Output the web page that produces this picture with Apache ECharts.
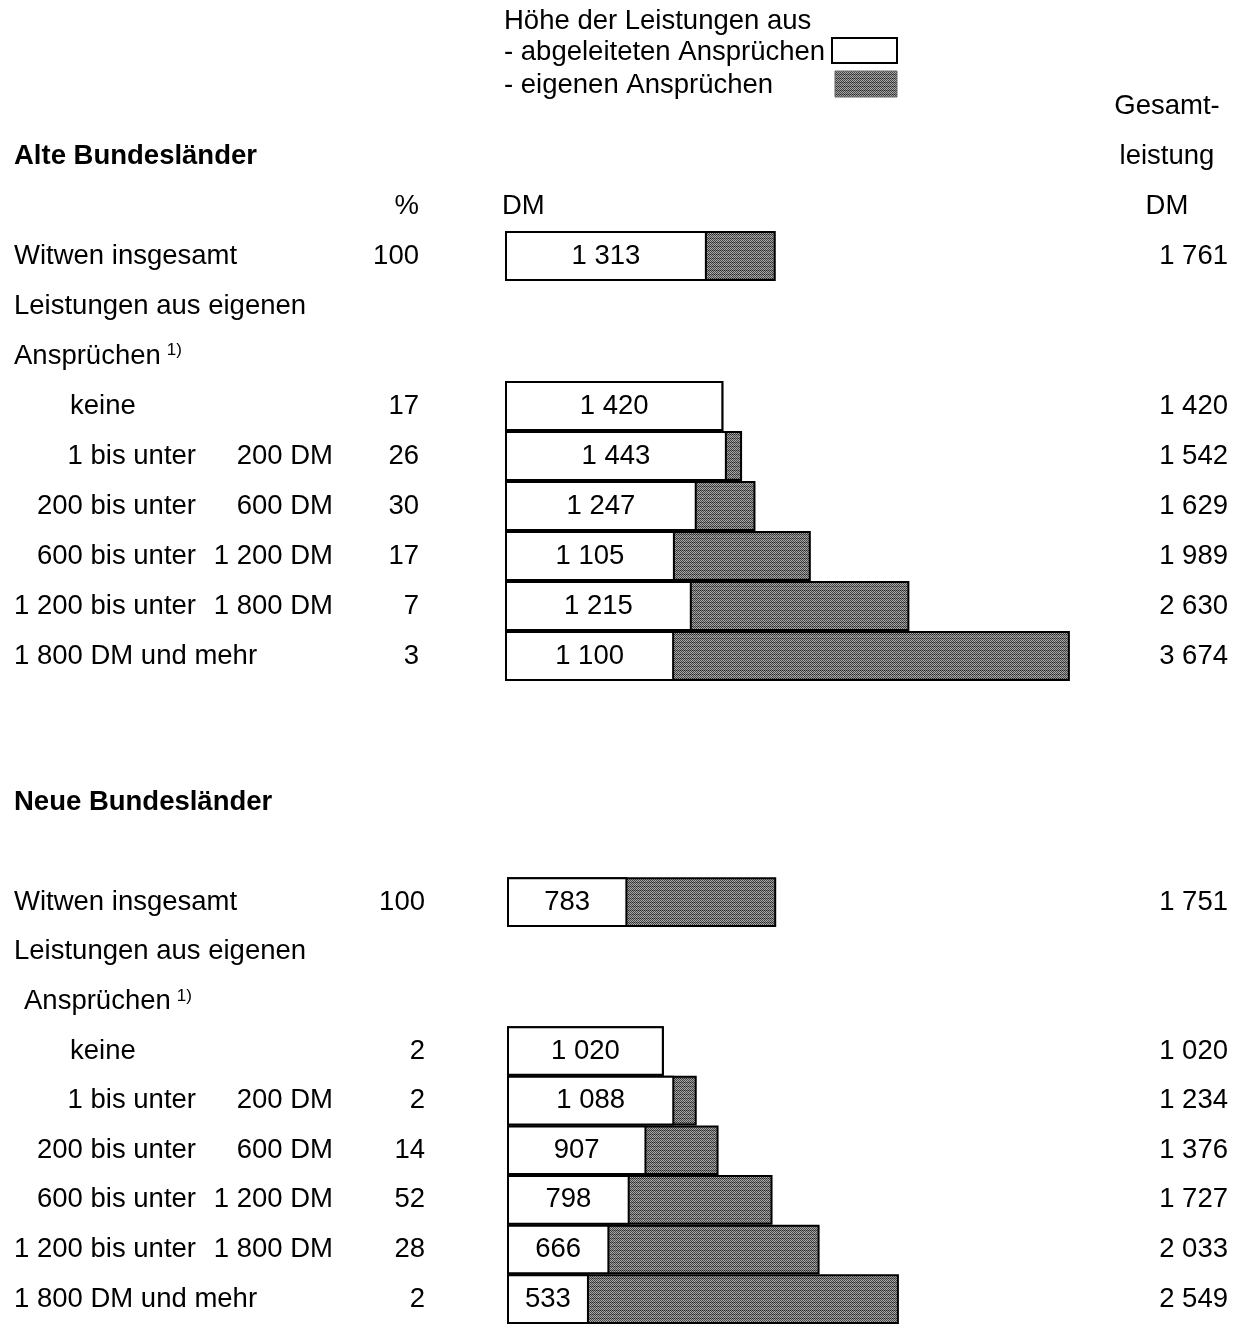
<!DOCTYPE html>
<html lang="de">
<head>
<meta charset="utf-8">
<title>Witwenrenten nach Höhe der Leistungen</title>
<script src="https://cdn.jsdelivr.net/npm/echarts@6/dist/echarts.min.js"></script>
<style>
  html, body { margin: 0; padding: 0; background: #fff; }
  #chart { width: 1245px; height: 1324px; }
</style>
</head>
<body>
<div id="chart"></div>
<script>
// Klassen der Leistungen aus eigenen Ansprüchen (untere Grenze | obere Grenze)
const klassenVon = ['keine', '1 bis unter', '200 bis unter', '600 bis unter', '1 200 bis unter', '1 800 DM und mehr'];
const klassenBis = ['', '200 DM', '600 DM', '1 200 DM', '1 800 DM', ''];

// Alte Bundesländer: Witwen insgesamt, dann je Klasse
const altAnteil = [100, 17, 26, 30, 17, 7, 3];
const altAbgeleitet = [1313, 1420, 1443, 1247, 1105, 1215, 1100];
const altGesamt = [1761, 1420, 1542, 1629, 1989, 2630, 3674];

// Neue Bundesländer
const neuAnteil = [100, 2, 2, 14, 52, 28, 2];
const neuAbgeleitet = [783, 1020, 1088, 907, 798, 666, 533];
const neuGesamt = [1751, 1020, 1234, 1376, 1727, 2033, 2549];

const FONT = '"Liberation Sans", Arial, Helvetica, sans-serif';
const FS = 27.5;

function fmt(v) {
  return String(v).replace(/\B(?=(\d{3})+(?!\d))/g, ' ');
}

// Rasterfüllung für die Leistungen aus eigenen Ansprüchen
function makeTexture() {
  const n = 8;
  const c = document.createElement('canvas');
  c.width = n; c.height = n;
  const ctx = c.getContext('2d');
  const img = ctx.createImageData(n, n);
  for (let y = 0; y < n; y++) {
    for (let x = 0; x < n; x++) {
      let v = (x + y) % 2 === 0 ? 72 : 165;
      if (y === 2 || y === 6) v -= 30;
      if ((x === 3 && y === 4) || (x === 6 && y === 1)) v = 190;
      const k = (y * n + x) * 4;
      img.data[k] = img.data[k + 1] = img.data[k + 2] = v;
      img.data[k + 3] = 255;
    }
  }
  ctx.putImageData(img, 0, 0);
  return c;
}
const raster = { image: makeTexture(), repeat: 'repeat' };

// Zeilen eines Abschnitts aufbauen
function buildRows(kopf, anteil, abgeleitet, gesamt, einzugAnspr) {
  const rows = kopf.slice();
  rows.push({ text: 'Witwen insgesamt', pct: anteil[0], abg: abgeleitet[0], ges: gesamt[0] });
  rows.push({ text: 'Leistungen aus eigenen' });
  rows.push({ anspr: true, einzug: einzugAnspr });
  for (let i = 0; i < klassenVon.length; i++) {
    rows.push({ klasse: i, pct: anteil[i + 1], abg: abgeleitet[i + 1], ges: gesamt[i + 1] });
  }
  return rows;
}

const altRows = buildRows([
  { right: 'Gesamt-', head: true },
  { bold: 'Alte Bundesländer', right: 'leistung', head: true },
  { pctHead: '%', dmHead: 'DM', right: 'DM', head: true }
], altAnteil, altAbgeleitet, altGesamt, false);

const neuRows = buildRows([
  { bold: 'Neue Bundesländer' },
  {}
], neuAnteil, neuAbgeleitet, neuGesamt, true);

function leftLabel(r) {
  if (r.bold) return '{b|' + r.bold + '}';
  if (r.text) return '{t|' + r.text + '}';
  if (r.anspr) return (r.einzug ? '{i2| }' : '') + '{t|Ansprüchen}{sup|1)}';
  if (r.klasse !== undefined) {
    const von = klassenVon[r.klasse], bis = klassenBis[r.klasse];
    if (bis) return '{von|' + von + '}{bis|' + bis + '}';
    if (r.klasse === 0) return '{ind| }{t|' + von + '}';
    return '{t|' + von + '}';
  }
  return '';
}

const textBase = { fontFamily: FONT, fontSize: FS, color: '#000' };
const leftRich = {
  t: { ...textBase },
  b: { ...textBase, fontWeight: 'bold' },
  ind: { ...textBase, width: 56 },
  i2: { ...textBase, width: 10 },
  von: { ...textBase, width: 182, align: 'right' },
  bis: { ...textBase, width: 137, align: 'right' },
  sup: { fontFamily: FONT, fontSize: 17, color: '#000', verticalAlign: 'top', padding: [0, 0, 0, 6] }
};
const rightRich = {
  r: { ...textBase, width: 122, align: 'right' },
  h: { ...textBase, width: 122, align: 'center' }
};

const hidden = { axisLine: { show: false }, axisTick: { show: false }, splitLine: { show: false } };

function sectionAxes(rows, gi, m) {
  const cats = rows.map((_, i) => 'z' + i);
  const base = { type: 'category', gridIndex: gi, data: cats, inverse: true, ...hidden };
  return [
    { ...base, position: 'left', axisLabel: {
        interval: 0, align: 'left', margin: m.left, rich: leftRich,
        formatter: (v, i) => leftLabel(rows[i]) } },
    { ...base, position: 'left', axisLabel: {
        interval: 0, align: 'right', margin: m.pct, ...textBase,
        formatter: (v, i) => rows[i].pctHead || (rows[i].pct !== undefined ? String(rows[i].pct) : '') } },
    { ...base, position: 'left', axisLabel: {
        interval: 0, align: 'left', margin: m.dm, ...textBase,
        formatter: (v, i) => rows[i].dmHead || '' } },
    { ...base, position: 'right', axisLabel: {
        interval: 0, align: 'right', margin: m.right, rich: rightRich,
        formatter: (v, i) => {
          const r = rows[i];
          if (r.head && r.right) return '{h|' + r.right + '}';
          if (r.ges !== undefined) return '{r|' + fmt(r.ges) + '}';
          return '';
        } } }
  ];
}

function sectionSeries(rows, gi, yi) {
  const common = {
    type: 'bar', xAxisIndex: gi, yAxisIndex: yi,
    barCategoryGap: '0%', barGap: '-100%', silent: true, animation: false
  };
  return [
    { ...common, name: 'Gesamtleistung',
      itemStyle: { color: raster, borderColor: '#000', borderWidth: 2 },
      data: rows.map(r => (r.ges !== undefined ? r.ges : '-')) },
    { ...common, name: 'abgeleitete Ansprüche',
      itemStyle: { color: '#fff', borderColor: '#000', borderWidth: 2 },
      label: { show: true, position: 'inside', ...textBase, formatter: p => fmt(p.value) },
      data: rows.map(r => (r.abg !== undefined ? r.abg : '-')) }
  ];
}

const xMax = 4000;
const chart = echarts.init(document.getElementById('chart'), null, { renderer: 'canvas' });

chart.setOption({
  backgroundColor: '#fff',
  animation: false,
  textStyle: { fontFamily: FONT },
  grid: [
    { left: 505, top: 81, width: 615, height: 600 },
    { left: 507, top: 778, width: 615, height: 550 }
  ],
  xAxis: [
    { type: 'value', gridIndex: 0, min: 0, max: xMax, show: false },
    { type: 'value', gridIndex: 1, min: 0, max: xMax, show: false }
  ],
  yAxis: [
    ...sectionAxes(altRows, 0, { left: 491, pct: 86, dm: 3, right: 108 }),
    ...sectionAxes(neuRows, 1, { left: 493, pct: 82, dm: 3, right: 106 })
  ],
  series: [
    ...sectionSeries(altRows, 0, 0),
    ...sectionSeries(neuRows, 1, 4)
  ],
  graphic: [
    { type: 'text', x: 504, y: 21, silent: true,
      style: { text: 'Höhe der Leistungen aus', font: FS + 'px ' + FONT, fill: '#000', verticalAlign: 'middle' } },
    { type: 'text', x: 504, y: 52, silent: true,
      style: { text: '- abgeleiteten Ansprüchen', font: FS + 'px ' + FONT, fill: '#000', verticalAlign: 'middle' } },
    { type: 'text', x: 504, y: 85, silent: true,
      style: { text: '- eigenen Ansprüchen', font: FS + 'px ' + FONT, fill: '#000', verticalAlign: 'middle' } },
    { type: 'rect', silent: true, shape: { x: 832, y: 38, width: 65, height: 25 },
      style: { fill: '#fff', stroke: '#000', lineWidth: 2 } },
    { type: 'rect', silent: true, shape: { x: 835, y: 71, width: 62, height: 26 },
      style: { fill: raster, stroke: '#666', lineWidth: 1 } }
  ]
});
</script>
</body>
</html>
